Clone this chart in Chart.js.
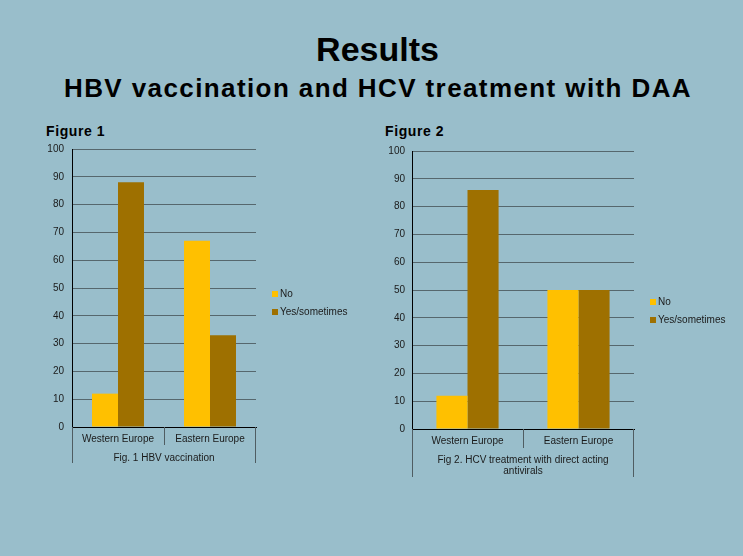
<!DOCTYPE html>
<html><head><meta charset="utf-8">
<script src="https://cdn.jsdelivr.net/npm/chart.js@4/dist/chart.umd.min.js"></script>
<style>
html,body{margin:0;padding:0;}
body{width:743px;height:556px;background:#99becb;position:relative;overflow:hidden;font-family:"Liberation Sans",Arial,sans-serif;}
.t{position:absolute;font-weight:bold;color:#000;white-space:nowrap;line-height:1;}
#title{left:0;width:755px;top:32px;font-size:34px;text-align:center;}
#sub{left:0;width:756px;top:75px;font-size:26px;text-align:center;letter-spacing:1.4px;}
#f1{left:46px;top:124px;font-size:14px;letter-spacing:0.6px;}
#f2{left:385px;top:124px;font-size:14px;letter-spacing:0.6px;}
canvas{position:absolute;}
#c1{left:30px;top:135px;}
#c2{left:376px;top:138px;}
</style>
</head>
<body>
<div class="t" id="title">Results</div>
<div class="t" id="sub">HBV vaccination and HCV treatment with DAA</div>
<div class="t" id="f1">Figure 1</div>
<div class="t" id="f2">Figure 2</div>
<canvas id="c1" width="330" height="337"></canvas>
<canvas id="c2" width="367" height="348"></canvas>
<script>
const categories = ['Western Europe', 'Eastern Europe'];
const seriesNames = ['No', 'Yes/sometimes'];
const fig1No = [12, 67];
const fig1Yes = [88, 33];
const fig2No = [12, 50];
const fig2Yes = [86, 50];
const yMin = 0, yMax = 100, yStep = 10;
const fig1Group = ['Fig. 1 HBV vaccination'];
const fig2Group = ['Fig 2. HCV treatment with direct acting', 'antivirals'];

const FONT = '"Liberation Sans", Arial, sans-serif';
const TXT = '#1a1a1a';
const COLORS = ['#ffc000', '#9e7000'];

const groupPlugin = {
  id: 'groupAxis',
  afterDraw(chart, args, opts) {
    const ctx = chart.ctx;
    const a = chart.chartArea;
    const x = chart.scales.x;
    const mid = (x.getPixelForTick(0) + x.getPixelForTick(1)) / 2;
    ctx.save();
    ctx.strokeStyle = '#4f5d62';
    ctx.lineWidth = 1;
    ctx.beginPath();
    const L = Math.round(a.left) + 0.5, R = Math.round(a.right) - 0.5, M = Math.round(mid) + 0.5;
    ctx.moveTo(L, a.bottom); ctx.lineTo(L, a.bottom + opts.xHeight);
    ctx.moveTo(R, a.bottom); ctx.lineTo(R, a.bottom + opts.xHeight);
    ctx.moveTo(M, a.bottom); ctx.lineTo(M, a.bottom + opts.rowHeight);
    ctx.stroke();
    ctx.fillStyle = TXT;
    ctx.font = '10px ' + FONT;
    ctx.textAlign = 'center';
    ctx.textBaseline = 'middle';
    opts.lines.forEach((t, i) => {
      ctx.fillText(t, (a.left + a.right) / 2, a.bottom + opts.groupY + i * 11);
    });
    ctx.textAlign = 'left';
    chart.data.datasets.forEach((ds, i) => {
      const yc = a.top + opts.legendTop + i * 18;
      const lx = a.right + 16;
      ctx.fillStyle = ds.backgroundColor;
      ctx.fillRect(lx, yc - 3, 6, 6);
      ctx.fillStyle = TXT;
      ctx.fillText(ds.label, lx + 8, yc + 0.5);
    });
    ctx.restore();
  }
};

function makeChart(id, noData, yesData, groupLines, cfg) {
  return new Chart(document.getElementById(id), {
    type: 'bar',
    data: {
      labels: categories,
      datasets: [
        { label: seriesNames[0], data: noData, backgroundColor: COLORS[0], borderWidth: 0 },
        { label: seriesNames[1], data: yesData, backgroundColor: COLORS[1], borderWidth: 0 }
      ]
    },
    options: {
      responsive: false,
      animation: false,
      devicePixelRatio: 1,
      layout: { padding: { top: 0, right: cfg.padRight, bottom: cfg.padBottom, left: 0 } },
      datasets: { bar: { barPercentage: 1, categoryPercentage: cfg.catPct } },
      plugins: {
        legend: { display: false },
        tooltip: { enabled: false },
        groupAxis: { lines: groupLines, xHeight: cfg.xHeight, rowHeight: cfg.rowHeight, groupY: cfg.groupY, legendTop: cfg.legendTop }
      },
      scales: {
        x: {
          grid: { display: false, drawTicks: false },
          border: { display: true, color: '#000', width: 1 },
          ticks: { font: { size: 10, family: FONT }, color: TXT, padding: 6, maxRotation: 0, autoSkip: false },
          afterFit(s) { s.height = cfg.xHeight; }
        },
        y: {
          min: yMin, max: yMax,
          ticks: { stepSize: yStep, font: { size: 10, family: FONT }, color: TXT, padding: cfg.yPad },
          grid: { color: '#56676d', lineWidth: 1, drawTicks: false },
          border: { display: true, color: '#000', width: 1 },
          afterFit(s) { s.width = cfg.yWidth; }
        }
      }
    },
    plugins: [groupPlugin]
  });
}

makeChart('c1', fig1No, fig1Yes, fig1Group, {
  padRight: 104, padBottom: 9, xHeight: 36, rowHeight: 18, yWidth: 42, yPad: 8,
  catPct: 0.565, groupY: 31, legendTop: 145
});
makeChart('c2', fig2No, fig2Yes, fig2Group, {
  padRight: 109, padBottom: 9, xHeight: 48, rowHeight: 19, yWidth: 36, yPad: 7,
  catPct: 0.56, groupY: 31, legendTop: 151
});
</script>
</body></html>
